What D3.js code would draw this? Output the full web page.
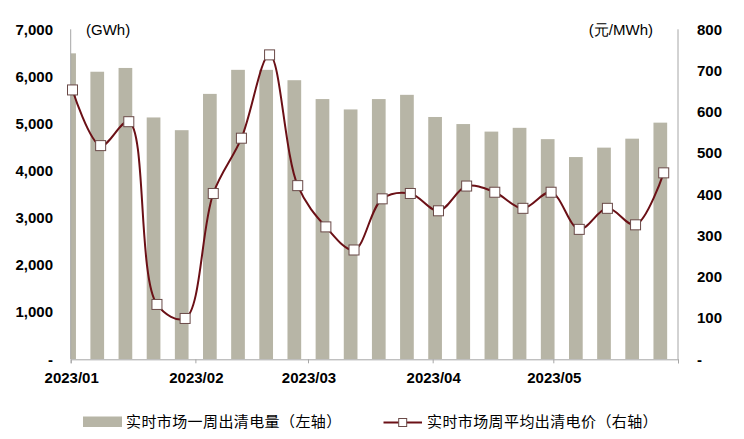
<!DOCTYPE html>
<html>
<head>
<meta charset="utf-8">
<script src="https://cdn.jsdelivr.net/npm/d3@7"></script>
<style>
  body { margin: 0; background: #fff; }
  text { font-family: "Liberation Sans", Arial, sans-serif; }
  .cjk { font-family: "Noto Sans CJK SC", sans-serif; }
</style>
</head>
<body>
<div id="chart"></div>
<script>
// Data
const weeks = ['2023-01-01', '2023-01-08', '2023-01-15', '2023-01-22', '2023-01-29', '2023-02-05',
  '2023-02-12', '2023-02-19', '2023-02-26', '2023-03-05', '2023-03-12', '2023-03-19',
  '2023-03-26', '2023-04-02', '2023-04-09', '2023-04-16', '2023-04-23', '2023-04-30',
  '2023-05-07', '2023-05-14', '2023-05-21', '2023-05-28']
const volume = [6490, 6100, 6180, 5130, 4860, 5630, 6140, 6140, 5920, 5520, 5300,
  5520, 5610, 5140, 4990, 4830, 4910, 4670, 4290, 4490, 4680, 5020]
const price = [653, 518, 576, 133, 99, 402, 536, 738, 421, 321, 265,
  389, 402, 360, 420, 405, 366, 405, 315, 366, 326, 452]
const monthTicks = ['2023-01-01', '2023-02-01', '2023-03-01', '2023-04-01', '2023-05-01', '2023-06-01']
const leftTicks = [0, 1000, 2000, 3000, 4000, 5000, 6000, 7000]
const rightTicks = [0, 100, 200, 300, 400, 500, 600, 700, 800]
const barLabel = '实时市场一周出清电量（左轴）'
const lineLabel = '实时市场周平均出清电价（右轴）'

const parse = d3.timeParse('%Y-%m-%d')
const dataset = weeks.map((w, i) => ({ date: parse(w), volume: volume[i], price: price[i] }))

// Dimensions
const dimensions = {
  width: 744,
  height: 439,
  left: 70.7,
  right: 678,
  top: 29.3,
  bottom: 359.3
}
const barColor = '#b7b5a6'
const lineColor = '#6b1016'
const axisColor = '#a6a6a6'

const svg = d3.select('#chart')
  .append('svg')
  .attr('width', dimensions.width)
  .attr('height', dimensions.height)

// Scales
const xScale = d3.scaleTime()
  .domain([parse('2023-01-01'), parse('2023-06-01')])
  .range([dimensions.left, dimensions.right])

const yLeft = d3.scaleLinear()
  .domain([0, 7000])
  .range([dimensions.bottom, dimensions.top])

const yRight = d3.scaleLinear()
  .domain([0, 800])
  .range([dimensions.bottom, dimensions.top])

svg.append('clipPath')
  .attr('id', 'plot-clip')
  .append('rect')
  .attr('x', dimensions.left)
  .attr('y', dimensions.top)
  .attr('width', dimensions.right - dimensions.left)
  .attr('height', dimensions.bottom - dimensions.top)

// Bars
const barWidth = 13.7
svg.append('g')
  .attr('clip-path', 'url(#plot-clip)')
  .selectAll('rect')
  .data(dataset)
  .join('rect')
  .attr('x', d => xScale(d.date) - 1.6 - barWidth / 2)
  .attr('y', d => yLeft(d.volume))
  .attr('width', barWidth)
  .attr('height', d => yLeft(0) - yLeft(d.volume))
  .attr('fill', barColor)

// Axis lines
const axes = svg.append('g')
  .attr('stroke', axisColor)
  .attr('stroke-width', 1)

axes.append('line')
  .attr('x1', dimensions.left).attr('x2', dimensions.left)
  .attr('y1', dimensions.top).attr('y2', dimensions.bottom)
axes.append('line')
  .attr('x1', dimensions.right).attr('x2', dimensions.right)
  .attr('y1', dimensions.top).attr('y2', dimensions.bottom)

const xAxis = d3.axisBottom(xScale)
  .tickValues(monthTicks.map(parse))
  .tickSize(4)
  .tickFormat('')

const xAxisGroup = svg.append('g')
  .attr('transform', `translate(0, ${dimensions.bottom})`)
  .call(xAxis)
xAxisGroup.select('.domain').attr('stroke', axisColor)
xAxisGroup.selectAll('.tick line').attr('stroke', axisColor)

// Month labels
svg.append('g')
  .selectAll('text')
  .data(monthTicks.slice(0, 5))
  .join('text')
  .attr('x', d => xScale(parse(d)) + 1)
  .attr('y', 383)
  .attr('text-anchor', 'middle')
  .attr('font-size', 15)
  .attr('font-weight', 'bold')
  .attr('fill', '#000')
  .text(d => d3.timeFormat('%Y/%m')(parse(d)))

// Y labels
const fmt = d3.format(',')
svg.append('g')
  .selectAll('text')
  .data(leftTicks)
  .join('text')
  .attr('x', 53)
  .attr('y', d => yLeft(d))
  .attr('dy', '0.35em')
  .attr('text-anchor', 'end')
  .attr('font-size', 15)
  .attr('font-weight', 'bold')
  .text(d => d === 0 ? '-' : fmt(d))

svg.append('g')
  .selectAll('text')
  .data(rightTicks)
  .join('text')
  .attr('x', 697)
  .attr('y', d => yRight(d))
  .attr('dy', '0.35em')
  .attr('text-anchor', 'start')
  .attr('font-size', 15)
  .attr('font-weight', 'bold')
  .text(d => d === 0 ? '-' : d)

// Units
svg.append('text')
  .attr('x', 86)
  .attr('y', 35)
  .attr('font-size', 15)
  .text('(GWh)')

svg.append('text')
  .attr('x', 653)
  .attr('y', 35)
  .attr('text-anchor', 'end')
  .attr('font-size', 15)
  .text('(元/MWh)')

// Price line
const line = d3.line()
  .x(d => xScale(d.date) + 1.8)
  .y(d => yRight(d.price))
  .curve(d3.curveCatmullRom.alpha(0.5))

svg.append('path')
  .datum(dataset)
  .attr('d', line)
  .attr('fill', 'none')
  .attr('stroke', lineColor)
  .attr('stroke-width', 2)

const markerSize = 10
svg.append('g')
  .selectAll('rect')
  .data(dataset)
  .join('rect')
  .attr('x', d => xScale(d.date) + 1.8 - markerSize / 2)
  .attr('y', d => yRight(d.price) - markerSize / 2)
  .attr('width', markerSize)
  .attr('height', markerSize)
  .attr('fill', '#fff')
  .attr('stroke', '#6a4a48')
  .attr('stroke-width', 1)

// Legend
const legend = svg.append('g')

legend.append('rect')
  .attr('x', 83)
  .attr('y', 416.5)
  .attr('width', 39)
  .attr('height', 10.5)
  .attr('fill', barColor)

legend.append('text')
  .attr('class', 'cjk')
  .attr('x', 126)
  .attr('y', 422)
  .attr('dy', '0.35em')
  .attr('font-size', 15)
  .attr('letter-spacing', 0.4)
  .text(barLabel)

legend.append('line')
  .attr('x1', 383.5).attr('x2', 422)
  .attr('y1', 422.5).attr('y2', 422.5)
  .attr('stroke', lineColor)
  .attr('stroke-width', 2)

legend.append('rect')
  .attr('x', 402.7 - 4)
  .attr('y', 422.5 - 4)
  .attr('width', 8)
  .attr('height', 8)
  .attr('fill', '#fff')
  .attr('stroke', '#6a4a48')

legend.append('text')
  .attr('class', 'cjk')
  .attr('x', 427)
  .attr('y', 422)
  .attr('dy', '0.35em')
  .attr('font-size', 15)
  .attr('letter-spacing', 0.4)
  .text(lineLabel)
</script>
</body>
</html>
